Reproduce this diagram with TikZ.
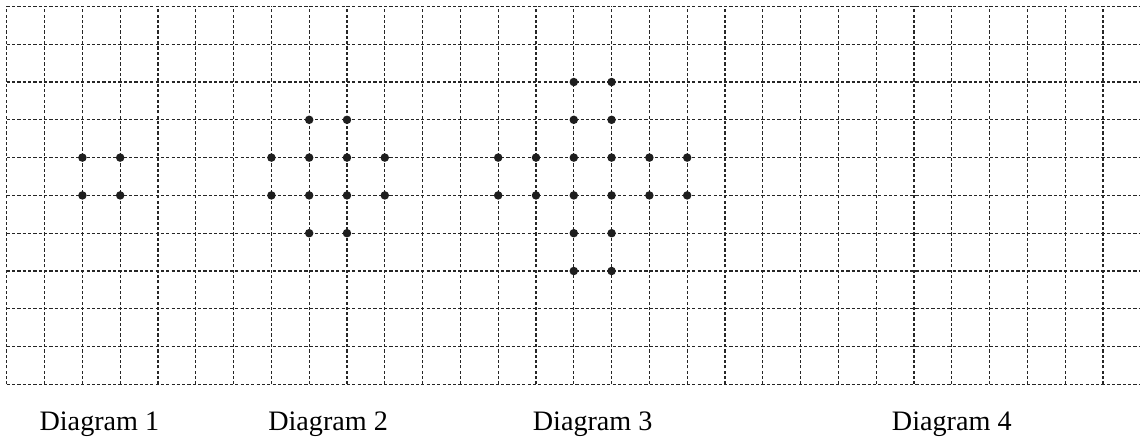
\documentclass[tikz,border=0pt]{standalone}
\usepackage{fontspec}
\setmainfont{Liberation Serif}
\usetikzlibrary{positioning}
\definecolor{dotblack}{RGB}{30,30,30}
\tikzset{
  gridline/.style={
    line width=0.4pt,
    draw=black!85,
    dash pattern=on 1.2pt off 0.8pt
  },
  dotmark/.style={
    circle,
    fill=dotblack,
    inner sep=0pt,
    minimum size=3.2pt
  },
  caption/.style={
    anchor=base,
    inner sep=0pt,
    font=\fontsize{10.6}{12}\selectfont
  }
}

\begin{document}
\begin{tikzpicture}[x=0.5cm,y=0.5cm]
  \useasboundingbox (-0.18,-1.52) rectangle (29.98,10.17);

  % squared paper, cut off at the right
  \foreach \i in {0,...,29}
    \draw[gridline] (\i,0) -- (\i,10);
  \foreach \j in {0,...,10}
    \draw[gridline] (0,\j) -- (30,\j);

  % diagram 1
  \foreach \c/\r in {2/6,3/6,2/5,3/5}
    \node[dotmark] at (\c,\r) {};

  % diagram 2
  \foreach \c/\r in {8/7,9/7,7/6,8/6,9/6,10/6,7/5,8/5,9/5,10/5,8/4,9/4}
    \node[dotmark] at (\c,\r) {};

  % diagram 3
  \foreach \r in {3,...,8}
    \foreach \c in {15,16}
      \node[dotmark] at (\c,\r) {};
  \foreach \r in {5,6}
    \foreach \c in {13,14,17,18}
      \node[dotmark] at (\c,\r) {};

  \node[caption] (cap1) at (2.45,-1.23) {Diagram 1};
  \node[caption] (cap2) at (8.5,-1.23) {Diagram 2};
  \node[caption] (cap3) at (15.5,-1.23) {Diagram 3};
  \node[caption] (cap4) at (25,-1.23) {Diagram 4};
\end{tikzpicture}
\end{document}
